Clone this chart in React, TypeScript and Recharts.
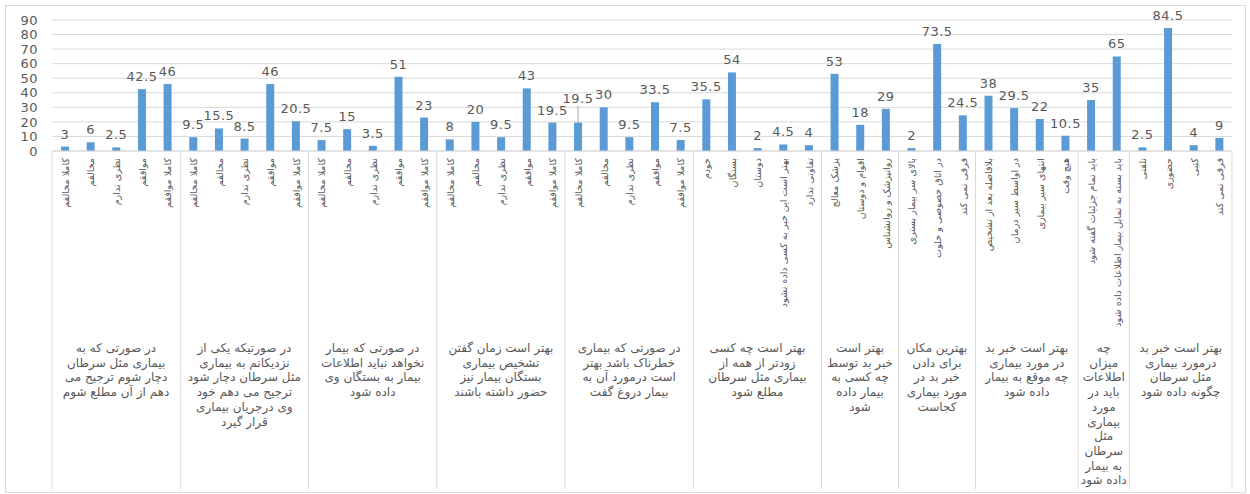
import React from "react";
import { BarChart, Bar, XAxis, YAxis, CartesianGrid, LabelList } from "recharts";

// answer options per question
const likert = ["کاملا مخالفم", "مخالفم", "نظری ندارم", "موافقم", "کاملا موافقم"];
const whoFirst = ["خودم", "بستگان", "دوستان", "بهتر است این خبر به کسی داده نشود", "تفاوتی ندارد"];
const whoTells = ["پزشک معالج", "اقوام و دوستان", "روانپزشک و روانشناس"];
const wherePlace = ["بالای سر بیمار بستری", "در اتاق خصوصی و خلوت", "فرقی نمی کند"];
const whenTime = ["بلافاصله بعد از تشخیص", "در اواسط سیر درمان", "انتهای سیر بیماری", "هیچ وقت"];
const howMuch = ["باید تمام جزئیات گفته شود", "باید بسته به تمایل بیمار اطلاعات داده شود"];
const howWay = ["تلفنی", "حضوری", "کتبی", "فرقی نمی کند"];

const groupCategories = [likert, likert, likert, likert, likert, whoFirst, whoTells, wherePlace, whenTime, howMuch, howWay];

const groupValues = [
  [3, 6, 2.5, 42.5, 46],
  [9.5, 15.5, 8.5, 46, 20.5],
  [7.5, 15, 3.5, 51, 23],
  [8, 20, 9.5, 43, 19.5],
  [19.5, 30, 9.5, 33.5, 7.5],
  [35.5, 54, 2, 4.5, 4],
  [53, 18, 29],
  [2, 73.5, 24.5],
  [38, 29.5, 22, 10.5],
  [35, 65],
  [2.5, 84.5, 4, 9],
];

// question titles, already wrapped like the original
const groupTitles = [
  ["در صورتی که به", "بیماری مثل سرطان", "دچار شوم ترجیح می", "دهم از آن مطلع شوم"],
  ["در صورتیکه یکی از", "نزدیکانم به بیماری", "مثل سرطان دچار شود", "ترجیح می دهم خود", "وی درجریان بیماری", "قرار گیرد"],
  ["در صورتی که بیمار", "نخواهد نباید اطلاعات", "بیمار به بستگان وی", "داده شود"],
  ["بهتر است زمان گفتن", "تشخیص بیماری", "بستگان بیمار نیز", "حضور داشته باشند"],
  ["در صورتی که بیماری", "خطرناک باشد بهتر", "است درمورد آن به", "بیمار دروغ گفت"],
  ["بهتر است چه کسی", "زودتر از همه از", "بیماری مثل سرطان", "مطلع شود"],
  ["بهتر است", "خبر بد توسط", "چه کسی به", "بیمار داده", "شود"],
  ["بهترین مکان", "برای دادن", "خبر بد در", "مورد بیماری", "کجاست"],
  ["بهتر است خبر بد", "در مورد بیماری", "چه موقع به بیمار", "داده شود"],
  ["چه", "میزان", "اطلاعات", "باید در", "مورد", "بیماری", "مثل", "سرطان", "به بیمار", "داده شود"],
  ["بهتر است خبر بد", "درمورد بیماری", "مثل سرطان", "چگونه داده شود"],
];

const yTicks = [0, 10, 20, 30, 40, 50, 60, 70, 80, 90];

// labels drawn above with a leader line (overlapping in the original)
const liftedLabels = ["4-0"];

const chartData = groupCategories.flatMap((cats, g) =>
  cats.map((label, i) => ({
    key: `${g}-${i}`,
    label,
    value: groupValues[g][i],
    group: g,
    pos: i,
    size: cats.length,
  }))
);

const W = 1250;
const H = 494;
const margin = { top: 20, right: 18, left: 0, bottom: 0 };
const yAxisWidth = 52;
const xAxisHeight = 343;
const plotWidth = W - margin.left - margin.right - yAxisWidth;
const band = plotWidth / chartData.length;

const FONT = "DejaVu Sans";
const GREY = "#595959";
const LINE = "#d9d9d9";

const CategoryTick = (props: any) => {
  const { x, y, index } = props;
  const d = chartData[index];
  if (!d) return null;
  const left = x - band / 2;
  const center = left + (d.size * band) / 2;
  return (
    <g>
      <text
        transform={`translate(${x + 4},${y + 7}) rotate(-90)`}
        textAnchor="end"
        fontSize={9.6}
        fontFamily={FONT}
        fill={GREY}
      >
        {d.label}
      </text>
      {d.pos === 0 && <line x1={left} x2={left} y1={y} y2={y + 338} stroke={LINE} />}
      {index === chartData.length - 1 && (
        <line x1={x + band / 2} x2={x + band / 2} y1={y} y2={y + 338} stroke={LINE} />
      )}
      {d.pos === 0 &&
        groupTitles[d.group].map((line, i) => (
          <text
            key={i}
            x={center}
            y={y + 201 + i * 14.7}
            textAnchor="middle"
            fontSize={12}
            fontFamily={FONT}
            fill={GREY}
          >
            {line}
          </text>
        ))}
    </g>
  );
};

const ValueLabel = (props: any) => {
  const { x, y, width, value, index } = props;
  const d = chartData[index];
  const cx = x + width / 2;
  const lifted = d && liftedLabels.includes(d.key);
  const ty = lifted ? y - 20 : y - 8;
  return (
    <g>
      {lifted && <line x1={cx} x2={cx} y1={ty + 3} y2={y} stroke="#a6a6a6" />}
      <text
        x={cx}
        y={ty}
        textAnchor="middle"
        fontSize={13}
        letterSpacing={0.5}
        fontFamily={FONT}
        fill={GREY}
      >
        {value}
      </text>
    </g>
  );
};

export default function App() {
  return (
    <div style={{ position: "absolute", left: 0, top: 0, width: W, height: H, background: "#fff" }}>
      <div
        style={{
          position: "absolute",
          left: 5,
          top: 5,
          width: 1239,
          height: 486,
          border: `1px solid ${LINE}`,
        }}
      />
      <div style={{ position: "absolute", left: 0, top: 0 }}>
        <BarChart width={W} height={H} data={chartData} margin={margin}>
          <CartesianGrid vertical={false} stroke={LINE} />
          <XAxis
            dataKey="key"
            interval={0}
            tickLine={false}
            tickSize={0}
            tickMargin={0}
            height={xAxisHeight}
            axisLine={{ stroke: LINE }}
            tick={<CategoryTick />}
          />
          <YAxis
            width={yAxisWidth}
            domain={[0, 90]}
            ticks={yTicks}
            interval={0}
            axisLine={false}
            tickLine={false}
            tickMargin={8}
            tick={{ fill: GREY, fontSize: 13, fontFamily: FONT, letterSpacing: 0.5 }}
          />
          <Bar dataKey="value" fill="#5B9BD5" barSize={8} isAnimationActive={false}>
            <LabelList dataKey="value" content={<ValueLabel />} />
          </Bar>
        </BarChart>
      </div>
    </div>
  );
}
